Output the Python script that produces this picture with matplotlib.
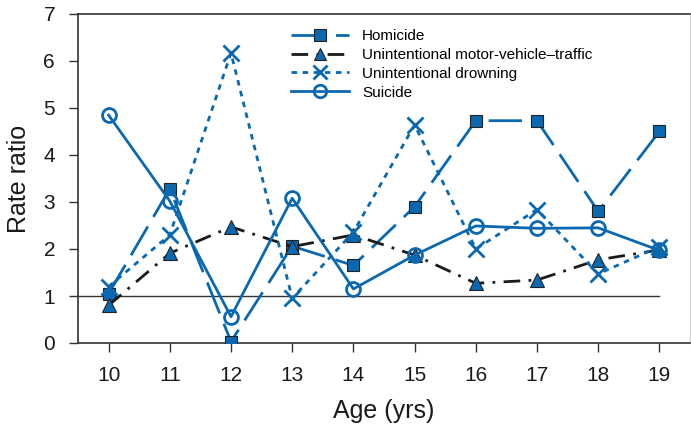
import matplotlib
matplotlib.use("Agg")
import matplotlib.pyplot as plt

plt.rcParams['font.family'] = ['Liberation Sans', 'DejaVu Sans']

ages = [10, 11, 12, 13, 14, 15, 16, 17, 18, 19]
homicide = [1.05, 3.28, 0.03, 2.06, 1.65, 2.9, 4.73, 4.73, 2.8, 4.5]
motor = [0.8, 1.91, 2.47, 2.05, 2.3, 1.87, 1.27, 1.34, 1.77, 1.98]
drowning = [1.2, 2.3, 6.17, 0.95, 2.36, 4.64, 2.0, 2.84, 1.47, 2.05]
suicide = [4.85, 3.02, 0.56, 3.08, 1.15, 1.87, 2.49, 2.44, 2.45, 1.97]

blue = '#0a68b0'
edge = '#222222'

fig = plt.figure(figsize=(6.91, 4.25), dpi=100)
ax = fig.add_axes([78/691, 1-343/425, 612/691, 329/425])

ax.plot([9.5, 19], [1, 1], color='#333333', lw=1.0, zorder=1)

ax.plot(ages, homicide, color=blue, lw=2, dashes=(12, 4), marker='s', ms=9,
        mfc=blue, mec=edge, mew=0.8, label='Homicide', zorder=3)
ax.plot(ages, motor, color='#1a1a1a', lw=2, dashes=(6, 3, 1, 3), marker='^', ms=10,
        mfc=blue, mec=edge, mew=0.8, label='Unintentional motor-vehicle\u2013traffic', zorder=3)
ax.plot(ages, drowning, color=blue, lw=2, dashes=(2, 2), marker='x', ms=11,
        mew=2, label='Unintentional drowning', zorder=3)
ax.plot(ages, suicide, color=blue, lw=2, marker='o', ms=10,
        mfc='none', mec=blue, mew=2, label='Suicide', zorder=3)

ax.set_xlim(9.5, 19.5)
ax.set_ylim(0, 7)
ax.set_xticks(ages)
ax.set_yticks(range(8))
ax.tick_params(labelsize=15, length=6.5, width=1, pad=10, color='#333333',
               labelcolor='#1a1a1a', direction='out')
for s in ['left', 'bottom', 'top']:
    ax.spines[s].set_color('#333333')
    ax.spines[s].set_linewidth(1.2)
ax.spines['right'].set_color('#cccccc')

ax.set_xlabel('Age (yrs)', fontsize=18, labelpad=10, color='#1a1a1a')
ax.set_ylabel('Rate ratio', fontsize=18, labelpad=9, color='#1a1a1a')

ax.legend(loc='upper left', bbox_to_anchor=(291/691, 1-29/425),
          bbox_transform=fig.transFigure, frameon=False, fontsize=11,
          handlelength=3.8, labelspacing=0.32, handletextpad=0.85,
          borderaxespad=0, borderpad=0, markerscale=0.9)

fig.savefig('out.png', dpi=100)
